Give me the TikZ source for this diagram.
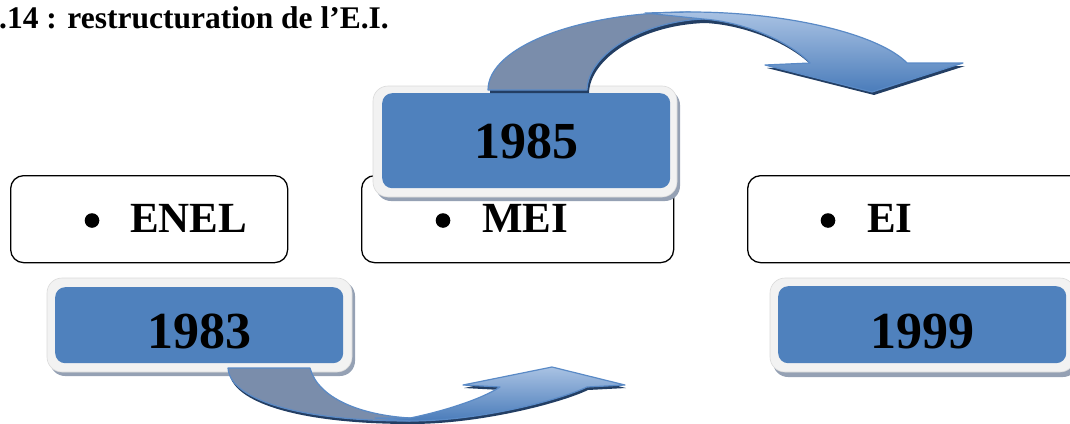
\documentclass[tikz,border=0pt]{standalone}
\usepackage{fontspec}
\setmainfont{Liberation Serif}
\definecolor{yearblue}{HTML}{4F81BD}
\definecolor{framegrey}{HTML}{F2F2F2}
\definecolor{frameedge}{HTML}{DADADA}
\definecolor{yshadow}{HTML}{95A1B4}
\definecolor{arrowback}{HTML}{7A8DAB}
\definecolor{arrowline}{HTML}{5A8AC6}
\definecolor{arrowshadow}{HTML}{233E63}
\definecolor{fronttop}{HTML}{A9C2E3}
\definecolor{frontbot}{HTML}{4A7CBA}
\begin{document}
\begin{tikzpicture}[x=1pt,y=-1pt,
  wbox/.style={draw=black, line width=1.3pt, rounded corners=13pt, fill=white,
    inner sep=0pt, anchor=north west},
  yshade/.style={fill=yshadow, rounded corners=15pt},
  yframe/.style={fill=framegrey, draw=frameedge, line width=0.6pt, rounded corners=15pt},
  yblue/.style={fill=yearblue, rounded corners=10pt, inner sep=0pt, anchor=north west},
  ytext/.style={font=\bfseries\fontsize{52}{60}\selectfont, inner sep=0pt, anchor=base},
  itemtext/.style={font=\bfseries\fontsize{43}{50}\selectfont, inner sep=0pt, anchor=base west},
  arrback/.style={fill=arrowback, draw=arrowline, line width=1.2pt, line join=round},
  arrfront/.style={top color=fronttop, bottom color=frontbot, draw=arrowline,
    line width=1.2pt, line join=round},
  arrshadow/.style={fill=arrowshadow}]
\useasboundingbox (0,0) rectangle (1070,423);

% heading
\node[anchor=base west, inner sep=0pt, font=\bfseries\fontsize{31.5}{37}\selectfont]
  (title) at (-1,28) {.14 : restructuration de l’E.I.};

% white entity boxes
\node[wbox, minimum width=277, minimum height=87] (enel) at (10,175) {};
\node[wbox, minimum width=312, minimum height=87] (mei) at (361,175) {};
\node[wbox, minimum width=340, minimum height=87] (ei) at (747,175) {};
\fill (92,220.5) circle (7.3);
\fill (443,220.5) circle (7.3);
\fill (828,220.5) circle (7.3);
\node[itemtext] (tenel) at (130,232) {ENEL};
\node[itemtext] (tmei) at (482,232) {MEI};
\node[itemtext] (tei) at (867,232) {EI};

% year boxes: shadow, light frame, blue panel
\fill[yshade] (50,281) rectangle (355,376);
\fill[yframe] (47,278) rectangle (352,372);
\node[yblue, minimum width=288, minimum height=76] (b1983) at (55,287) {};
\node[ytext] (y1983) at (199,348) {1983};

\fill[yshade] (376,90) rectangle (680,201);
\fill[yframe] (373,86) rectangle (677,197);
\node[yblue, minimum width=288, minimum height=95] (b1985) at (382,93) {};
\node[ytext] (y1985) at (526,158) {1985};

\fill[yshade] (773,281) rectangle (1078,377);
\fill[yframe] (770,278) rectangle (1075,372);
\node[yblue, minimum width=288, minimum height=77] (b1999) at (778,286) {};
\node[ytext] (y1999) at (922,348) {1999};

% upper curved arrow (1985 -> EI)
\fill[arrshadow, shift={(2,3)}]
  (488,90) .. controls (488,47) and (578,12) .. (690,12)
  .. controls (790,12) and (880,35) .. (907,63)
  -- (963,63) -- (872,92) -- (765,65) -- (810,63)
  .. controls (790,42) and (745,22) .. (703,20)
  .. controls (640,22) and (588,55) .. (587,90) -- cycle;
\path[arrback]
  (488,90) .. controls (488,47) and (578,12) .. (690,12)
  -- (703,19) .. controls (640,22) and (588,55) .. (587,90) -- cycle;
\path[arrfront]
  (645,13) -- (690,12) .. controls (790,12) and (880,35) .. (907,63)
  -- (963,63) -- (872,92) -- (765,65) -- (810,63)
  .. controls (790,42) and (745,22) .. (703,19) -- cycle;

% lower curved arrow (1983 -> MEI)
\fill[arrshadow, shift={(1,3)}]
  (228,368) .. controls (230,400) and (300,421) .. (410,421)
  .. controls (480,421) and (560,400) .. (587,387)
  -- (625,385) -- (552,367) -- (463,385) -- (500,387)
  .. controls (480,400) and (440,412) .. (410,418)
  .. controls (360,415) and (318,398) .. (310,368) -- cycle;
\path[arrback]
  (228,368) .. controls (230,400) and (300,421) .. (410,421)
  -- (410,418) .. controls (360,415) and (318,398) .. (310,368) -- cycle;
\path[arrfront]
  (375,418) -- (410,421) .. controls (480,421) and (560,400) .. (587,387)
  -- (625,385) -- (552,367) -- (463,385) -- (500,387)
  .. controls (480,400) and (440,412) .. (410,418) -- cycle;
\end{tikzpicture}
\end{document}
